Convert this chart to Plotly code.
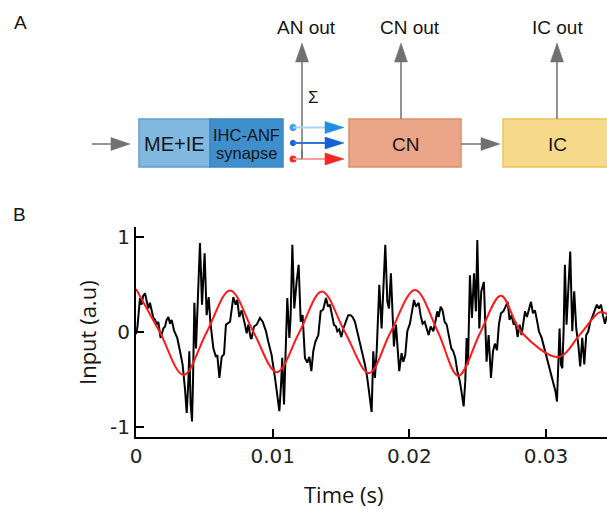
import plotly.graph_objects as go

# ---------------- data (panel B) ----------------
time_s = [
    0.00000, 0.00010, 0.00029, 0.00041, 0.00052, 0.00066, 0.00078, 0.00090, 0.00102, 0.00115,
    0.00127, 0.00140, 0.00151, 0.00163, 0.00180, 0.00200, 0.00212, 0.00224, 0.00237, 0.00249,
    0.00261, 0.00278, 0.00302, 0.00322, 0.00341, 0.00358, 0.00371, 0.00383, 0.00390, 0.00400,
    0.00410, 0.00417, 0.00427, 0.00439, 0.00451, 0.00468, 0.00483, 0.00502, 0.00517, 0.00532,
    0.00544, 0.00566, 0.00585, 0.00595, 0.00610, 0.00627, 0.00644, 0.00658, 0.00688, 0.00712,
    0.00729, 0.00741, 0.00756, 0.00773, 0.00797, 0.00810, 0.00822, 0.00839, 0.00846, 0.00863,
    0.00883, 0.00907, 0.00927, 0.00951, 0.00968, 0.00992, 0.01017, 0.01034, 0.01049, 0.01061,
    0.01070, 0.01083, 0.01097, 0.01107, 0.01122, 0.01131, 0.01144, 0.01158, 0.01175, 0.01190,
    0.01205, 0.01219, 0.01236, 0.01253, 0.01268, 0.01283, 0.01297, 0.01312, 0.01334, 0.01351,
    0.01370, 0.01390, 0.01405, 0.01419, 0.01434, 0.01448, 0.01463, 0.01473, 0.01487, 0.01502,
    0.01517, 0.01536, 0.01553, 0.01570, 0.01585, 0.01602, 0.01619, 0.01639, 0.01658, 0.01675,
    0.01692, 0.01707, 0.01724, 0.01736, 0.01748, 0.01761, 0.01780, 0.01797, 0.01809, 0.01824,
    0.01839, 0.01851, 0.01865, 0.01875, 0.01887, 0.01902, 0.01917, 0.01926, 0.01943, 0.01956,
    0.01970, 0.01985, 0.02004, 0.02019, 0.02034, 0.02048, 0.02068, 0.02082, 0.02097, 0.02112,
    0.02126, 0.02141, 0.02156, 0.02175, 0.02190, 0.02204, 0.02214, 0.02229, 0.02243, 0.02258,
    0.02273, 0.02287, 0.02307, 0.02321, 0.02336, 0.02351, 0.02370, 0.02385, 0.02397, 0.02409,
    0.02419, 0.02429, 0.02443, 0.02458, 0.02473, 0.02487, 0.02497, 0.02512, 0.02526, 0.02545,
    0.02555, 0.02565, 0.02580, 0.02597, 0.02612, 0.02626, 0.02641, 0.02655, 0.02670, 0.02687,
    0.02704, 0.02719, 0.02733, 0.02748, 0.02763, 0.02777, 0.02792, 0.02807, 0.02821, 0.02836,
    0.02846, 0.02860, 0.02875, 0.02890, 0.02904, 0.02919, 0.02933, 0.02948, 0.02968, 0.02987,
    0.03007, 0.03026, 0.03041, 0.03055, 0.03070, 0.03080, 0.03089, 0.03099, 0.03109, 0.03119,
    0.03129, 0.03138, 0.03150, 0.03163, 0.03177, 0.03192, 0.03206, 0.03221, 0.03236, 0.03250,
    0.03265, 0.03280, 0.03294, 0.03309, 0.03324, 0.03338, 0.03358, 0.03372, 0.03387, 0.03402,
    0.03416, 0.03431, 0.03443, 0.03460,
]
input_signal = [
    -0.02, 0.05, 0.36, 0.29, 0.38, 0.41, 0.33, 0.25, 0.31, 0.24,
    0.15, 0.13, 0.08, 0.11, -0.06, 0.04, 0.06, 0.13, 0.16, 0.09,
    0.13, 0.02, -0.06, -0.20, -0.34, -0.59, -0.85, -0.52, -0.20, -0.76,
    -0.94, -0.52, 0.31, -0.17, 0.25, 0.94, 0.29, 0.83, 0.18, 0.37,
    0.11, -0.17, -0.26, -0.24, -0.48, -0.26, -0.23, 0.08, 0.11, 0.37,
    0.29, 0.34, 0.16, 0.23, 0.08, -0.01, 0.08, -0.06, -0.07, 0.06,
    0.08, 0.15, 0.11, 0.01, -0.10, -0.24, -0.48, -0.66, -0.83, -0.55,
    -0.27, -0.76, 0.08, 0.36, -0.06, 0.15, 0.92, 0.25, 0.53, 0.71,
    0.11, 0.18, -0.27, -0.32, -0.26, -0.41, -0.20, -0.10, -0.03, 0.22,
    0.24, 0.36, 0.27, 0.29, 0.18, 0.08, 0.06, 0.01, 0.03, -0.05,
    0.04, 0.11, 0.18, 0.18, 0.16, 0.11, 0.01, -0.10, -0.24, -0.34,
    -0.48, -0.66, -0.84, -0.20, -0.48, -0.20, 0.50, 0.04, 0.53, 0.92,
    0.32, 0.25, 0.62, 0.32, -0.15, 0.08, -0.20, -0.41, -0.22, -0.31,
    -0.24, 0.01, 0.09, 0.22, 0.34, 0.27, 0.31, 0.18, 0.09, 0.11,
    0.03, -0.03, 0.06, 0.01, 0.11, 0.22, 0.16, 0.27, 0.23, 0.11,
    0.08, -0.03, -0.17, -0.20, -0.27, -0.41, -0.52, -0.66, -0.78, -0.52,
    -0.06, -0.34, 0.60, 0.15, 0.62, 0.22, 0.97, 0.04, 0.43, 0.53,
    0.01, -0.31, -0.03, -0.48, -0.20, -0.12, -0.19, 0.08, 0.20, 0.22,
    0.27, 0.32, 0.13, 0.18, 0.08, 0.11, -0.05, 0.08, -0.03, 0.11,
    0.22, 0.16, 0.25, 0.32, 0.20, 0.23, 0.13, 0.01, -0.06, -0.17,
    -0.26, -0.38, -0.48, -0.54, -0.63, -0.73, -0.41, 0.04, -0.34, -0.38,
    0.04, 0.71, 0.08, 0.43, 0.85, 0.01, 0.43, 0.04, -0.13, -0.36,
    -0.06, -0.34, -0.03, 0.01, 0.11, 0.16, 0.23, 0.29, 0.25, 0.29,
    0.18, 0.09, 0.16, 0.14,
]
f0_time_s = [0.0, 0.00175, 0.00347, 0.00517, 0.00688, 0.00860, 0.01030, 0.01195, 0.01360,
             0.01529, 0.01705, 0.01862, 0.02041, 0.02210, 0.02358, 0.02520, 0.02670, 0.02820,
             0.03090, 0.03250, 0.03394, 0.03460]
f0_component = [0.455, 0.0, -0.45, 0.0, 0.44, 0.0, -0.42, 0.0, 0.43,
                0.0, -0.43, 0.0, 0.445, 0.0, -0.46, 0.0, 0.385, 0.0,
                -0.26, -0.02, 0.21, 0.18]

x_ticks = [0, 0.01, 0.02, 0.03]
x_tick_labels = ["0", "0.01", "0.02", "0.03"]
y_ticks = [-1, 0, 1]
y_tick_labels = ["-1", "0", "1"]

# ---------------- figure ----------------
W, H = 607, 509


def px(x):
    return x / W


def py(y):
    return 1 - y / H


fig = go.Figure()
fig.add_trace(go.Scatter(x=time_s, y=input_signal, mode="lines",
                         line=dict(color="black", width=2), hoverinfo="skip"))
fig.add_trace(go.Scatter(x=f0_time_s, y=f0_component, mode="lines",
                         line=dict(color="#ff1a1a", width=2, shape="spline", smoothing=1.0),
                         hoverinfo="skip"))

shapes = []
annotations = []
GRAY = "#707070"


def box(x0, y0, x1, y1, fill, line):
    shapes.append(dict(type="rect", xref="paper", yref="paper", x0=px(x0), x1=px(x1),
                       y0=py(y1), y1=py(y0), fillcolor=fill, line=dict(color=line, width=1.5)))


def seg(x0, y0, x1, y1, color, width=1.5):
    shapes.append(dict(type="line", xref="paper", yref="paper", x0=px(x0), x1=px(x1),
                       y0=py(y0), y1=py(y1), line=dict(color=color, width=width)))


def tri(pts, color):
    path = "M " + " L ".join(f"{px(a):.5f},{py(b):.5f}" for a, b in pts) + " Z"
    shapes.append(dict(type="path", xref="paper", yref="paper", path=path,
                       fillcolor=color, line=dict(color=color, width=0.5)))


def dot(x, y, r, color):
    shapes.append(dict(type="circle", xref="paper", yref="paper", x0=px(x - r), x1=px(x + r),
                       y0=py(y + r), y1=py(y - r), fillcolor=color, line=dict(color=color, width=0)))


def text(x, y, s, size=18, family="Liberation Sans, Arial", color="#151515", angle=0):
    annotations.append(dict(x=px(x), y=py(y), xref="paper", yref="paper", text=s, showarrow=False,
                            xanchor="center", yanchor="middle", textangle=angle,
                            font=dict(size=size, family=family, color=color)))


def arrow_right(x0, x1, y, color):
    seg(x0, y, x1 - 16, y, color)
    tri([(x1 - 19, y - 6.5), (x1, y), (x1 - 19, y + 6.5)], color)


def arrow_up(x, y0, y1, color):
    seg(x, y0, x, y1 + 16, color)
    tri([(x - 6.5, y1 + 19), (x, y1), (x + 6.5, y1 + 19)], color)


# input arrow
arrow_right(92, 130, 144, GRAY)
# boxes
box(139, 119, 210, 167, "#80b8e0", "#5d9fd2")
box(210, 119, 283, 167, "#3f8fcd", "#3a86c2")
box(349, 119, 461, 167, "#eba68a", "#e28d66")
box(503, 119, 620, 167, "#f7d98c", "#f0c452")
# AN out
arrow_up(302, 159, 43, GRAY)
# fibres
dot(293, 127.5, 3.5, "#3d9fee")
dot(293, 143, 3, "#1a5fd0")
dot(293, 159, 3.5, "#ff2a2a")
seg(293, 127.5, 328, 127.5, "#a9d5f5", 2)
seg(293, 143, 328, 143, "#3075d8", 2)
seg(293, 159, 328, 159, "#ff9c9c", 2)
tri([(325, 121.5), (344, 127.5), (325, 133.5)], "#1f8fe6")
tri([(325, 137), (344, 143), (325, 149)], "#1560d2")
tri([(325, 153), (344, 159), (325, 165)], "#ff2424")
seg(302, 159, 302, 150, GRAY)
# CN out, CN->IC, IC out
arrow_up(401, 119, 43, GRAY)
arrow_right(461, 500, 144, GRAY)
arrow_up(557, 119, 43, GRAY)

text(174, 144, "ME+IE", 20)
text(246, 135, "IHC-ANF", 16.5)
text(246, 153, "synapse", 16.5)
text(405, 144, "CN", 19)
text(557, 144, "IC", 19)
text(306, 27, "AN out", 19)
text(410, 27, "CN out", 19)
text(557, 27, "IC out", 19)
text(313, 97, "Σ", 17)
text(20, 22, "A", 19)
text(19, 214, "B", 19)
text(87, 333, "Input (a.u)", 22, family="Open Sans", angle=-90)
text(344, 494, "Time (s)", 22, family="Open Sans")

fig.update_layout(
    template="none",
    width=W, height=H,
    margin=dict(l=0, r=0, t=0, b=0, autoexpand=False),
    paper_bgcolor="white", plot_bgcolor="white",
    showlegend=False, hovermode=False,
    shapes=shapes, annotations=annotations,
    xaxis=dict(domain=[136 / W, 1], range=[0, 0.03446],
               tickvals=x_ticks, ticktext=x_tick_labels,
               ticks="inside", ticklen=8, tickwidth=2, tickcolor="black", automargin=False,
               showline=True, linewidth=2, linecolor="black", showgrid=False, zeroline=False,
               tickfont=dict(family="DejaVu Sans", size=20, color="#222")),
    yaxis=dict(domain=[1 - 437 / H, 1 - 227 / H], range=[-1.103, 1.108],
               tickvals=y_ticks, ticktext=y_tick_labels,
               ticks="inside", ticklen=8, tickwidth=2, tickcolor="black",
               showline=True, linewidth=2, linecolor="black", showgrid=False, zeroline=False,
               automargin=False,
               tickfont=dict(family="DejaVu Sans", size=20, color="#222")),
)

fig.write_html("out.html", config={"displayModeBar": False, "staticPlot": True},
               post_script="document.body.style.margin='0';document.body.style.overflow='hidden';")
